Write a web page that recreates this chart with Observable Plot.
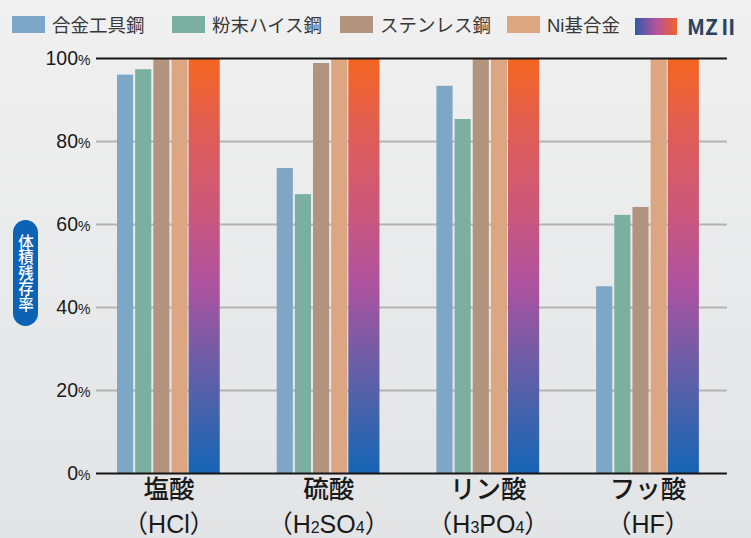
<!DOCTYPE html>
<html>
<head>
<meta charset="utf-8">
<script src="https://cdn.jsdelivr.net/npm/d3@7"></script>
<script src="https://cdn.jsdelivr.net/npm/@observablehq/plot@0.6"></script>
<style>
  html, body { margin: 0; padding: 0; }
  body {
    width: 751px; height: 538px; overflow: hidden; position: relative;
    background: linear-gradient(#f0f0f0, #e3e4e6);
    font-family: "Liberation Sans", "Noto Sans CJK JP", sans-serif;
  }
  .legend { position: absolute; top: 0; left: 0; width: 751px; height: 40px; }
  .lg-item { position: absolute; top: 11px; display: flex; align-items: center; font-size: 18.5px; color: #383838; white-space: nowrap; }
  .sw { width: 33px; height: 17px; margin-right: 7px; }
  .mz-text { font-weight: 700; color: #2b4361; font-size: 21px; font-family: "Noto Sans CJK JP", sans-serif; }
  #chart { position: absolute; top: 40px; left: 0; }
  .ytitle {
    position: absolute; left: 13px; top: 220px; width: 25px; height: 106px;
    background: #0a63b4; border-radius: 13px; color: #fff;
    writing-mode: vertical-rl; text-orientation: upright;
    font-family: "Noto Sans CJK JP", sans-serif; font-size: 15.5px; font-weight: 500; line-height: 25px;
    display: flex; align-items: center; justify-content: center; letter-spacing: 0;
  }
</style>
</head>
<body>
<div class="legend" id="legend"></div>
<div id="chart"></div>
<div class="ytitle">体積残存率</div>
<script>
// ---- data ----
const acids = ["塩酸", "硫酸", "リン酸", "フッ酸"];
const formulas = ["（HCl）", "（H2SO4）", "（H3PO4）", "（HF）"];
const seriesNames = ["合金工具鋼", "粉末ハイス鋼", "ステンレス鋼", "Ni基合金", "MZ Ⅱ"];
const alloyToolSteel = [96, 73.5, 93.3, 45];
const powderHSS = [97.3, 67.2, 85.3, 62.2];
const stainless = [100, 98.8, 100, 64.1];
const niAlloy = [100, 100, 100, 100];
const mz2 = [100, 100, 100, 100];
const yTicks = [0, 20, 40, 60, 80, 100];
const seriesColors = ["#7ea6c6", "#7bb0a1", "#b2937d", "#dca682"];

const valuesBySeries = [alloyToolSteel, powderHSS, stainless, niAlloy, mz2];
const rows = [];
seriesNames.forEach((s, si) => acids.forEach((a, ai) => rows.push({acid: a, series: s, value: valuesBySeries[si][ai]})));
const steelRows = rows.filter(d => d.series !== "MZ Ⅱ");
const mzRows = rows.filter(d => d.series === "MZ Ⅱ");

// ---- legend ----
const legendPos = [12, 172, 340, 507, 635];
const legend = document.getElementById("legend");
seriesNames.forEach((s, i) => {
  const item = document.createElement("div");
  item.className = "lg-item";
  item.style.left = legendPos[i] + "px";
  const sw = document.createElement("div");
  sw.className = "sw";
  if (i < 4) sw.style.background = seriesColors[i];
  else { sw.style.background = "linear-gradient(90deg, #2f5aa8, #b4529e 50%, #f2622a)"; sw.style.width = "42px"; sw.style.marginRight = "10px"; }
  const tx = document.createElement("span");
  tx.textContent = i === 4 ? "MZⅡ" : s;
  if (i === 4) tx.className = "mz-text";
  item.appendChild(sw); item.appendChild(tx);
  legend.appendChild(item);
});

// ---- chart ----
const plot = Plot.plot({
  width: 751,
  height: 498,
  marginTop: 18,
  marginBottom: 65,
  marginLeft: 117,
  marginRight: 52,
  style: {background: "transparent", fontFamily: "'Liberation Sans', 'Noto Sans CJK JP', sans-serif", fontSize: "19px", color: "#1a1a1a", overflow: "visible"},
  fx: {domain: acids, paddingInner: 0.356, paddingOuter: 0, round: false, axis: null, label: null},
  x: {domain: seriesNames, paddingInner: 0.111, paddingOuter: 0.389, align: 0, round: false, axis: null},
  y: {domain: [0, 100], ticks: yTicks, label: null},
  color: {domain: seriesNames.slice(0, 4), range: seriesColors},
  marks: [
    Plot.ruleY(yTicks.filter(t => t > 0 && t < 100), {y: d => d, fx: () => acids[0], stroke: "#b3b3b3", strokeWidth: 2.2, insetLeft: -21, insetRight: -507}),
    Plot.barY(steelRows, {fx: "acid", x: "series", y: "value", fill: "series"}),
    Plot.barY(mzRows, {fx: "acid", x: "series", y: "value", fill: "url(#mzGrad)", insetLeft: -1, insetRight: -14}),
    Plot.ruleY([0, 100], {y: d => d, fx: () => acids[0], stroke: "#151515", strokeWidth: 2.2, insetLeft: -21, insetRight: -507}),
    Plot.axisY(yTicks, {tickSize: 0, tickPadding: 27, tickFormat: d => d + "%", fontSize: 19.5, fill: "#1a1a1a", label: null}),
    Plot.text(acids, {fx: d => d, text: d => d, frameAnchor: "bottom", dy: 24, fontSize: 25.5, fontWeight: 500, fill: "#1a1a1a", fontFamily: "'Noto Sans CJK JP', sans-serif"}),
    Plot.text(acids, {fx: d => d, text: d => formulas[acids.indexOf(d)], frameAnchor: "bottom", dy: 59, fontSize: 25, fill: "#1a1a1a"})
  ]
});

const svg = d3.select(plot);
svg.insert("defs", ":first-child").html(`
  <linearGradient id="mzGrad" x1="0" y1="1" x2="0" y2="0">
    <stop offset="0" stop-color="#1565b5"/>
    <stop offset="0.2" stop-color="#5561a9"/>
    <stop offset="0.45" stop-color="#ad52a0"/>
    <stop offset="0.62" stop-color="#cb577d"/>
    <stop offset="0.82" stop-color="#df5d57"/>
    <stop offset="1" stop-color="#f5661f"/>
  </linearGradient>`);

// smaller % in y tick labels, small digits in formulas
svg.selectAll("text").each(function() {
  const t = this.textContent;
  const m = /^(\d+)%$/.exec(t);
  if (m) {
    const el = d3.select(this);
    el.text(m[1]);
    el.append("tspan").attr("font-size", 14).text("%");
  }
  if (formulas.includes(t)) {
    const el = d3.select(this);
    el.text(null);
    const parts = t.split(/(\d)/).filter(p => p !== "");
    parts.forEach(p => {
      const sp = el.append("tspan").text(p);
      if (/^\d$/.test(p)) sp.attr("font-size", 16);
    });
  }
});

document.getElementById("chart").appendChild(plot);
</script>
</body>
</html>
